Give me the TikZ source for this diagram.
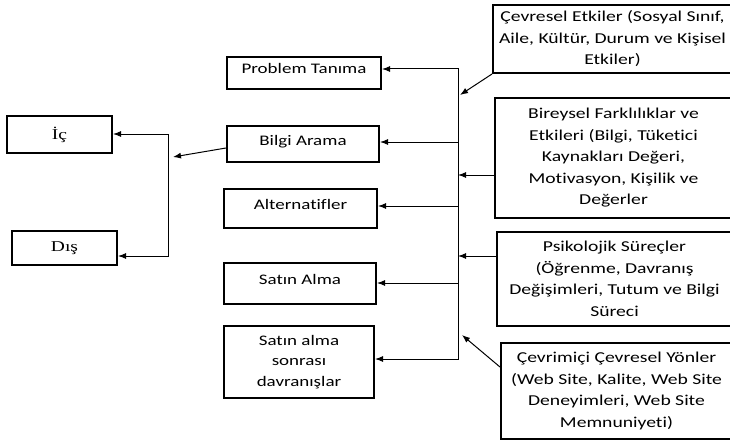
\documentclass[tikz,border=0pt]{standalone}
\usepackage{fontspec}
\setmainfont{Carlito}[FakeStretch=1.3, RawFeature={-liga;-clig;-calt;-dlig}]
\newfontfamily\serifface{Liberation Serif}[FakeStretch=1.3]
\usetikzlibrary{arrows.meta}

\begin{document}
\begin{tikzpicture}[x=1pt, y=-1pt, >={Latex[length=8pt, width=6pt]},
	box/.style		= {rectangle, draw, line width=2pt, inner sep=0pt, align=center},
	stage/.style	= {box, font=\fontsize{14.6}{20.8}\selectfont},
	oneline/.style	= {text height=9.5pt, text depth=7.5pt},
	factor/.style	= {box, font=\fontsize{15.1}{21.5}\selectfont},
	side/.style		= {box, font=\serifface\fontsize{15}{18}\selectfont},
	link/.style		= {line width=1pt}]

\useasboundingbox (0, 0) rectangle (730, 441);

% decision stages
\path	(304, 73)		node(problem)		[stage, oneline, minimum width=154, minimum height=32]	{Problem Tanıma}
		(303, 144)		node(bilgi)			[stage, oneline, minimum width=152, minimum height=36]	{Bilgi Arama}
		(300.5, 208.5)	node(alternatif)	[stage, oneline, minimum width=153, minimum height=39]	{Alternatifler}
		(300, 283.5)	node(satinalma)		[stage, oneline, minimum width=152, minimum height=41]	{Satın Alma}
		(299, 362)		node(sonrasi)		[stage, minimum width=150, minimum height=72]			{Satın alma\\ sonrası\\ davranışlar};

% information sources
\path	(59.5, 134.5)	node(ic)			[side, minimum width=105, minimum height=37]			{İç}
		(64.5, 248)		node(dis)			[side, minimum width=105, minimum height=34]			{Dış};

% influencing factors
\path	(612.5, 39)		node(cevresel)		[factor, minimum width=239, minimum height=68]			{Çevresel Etkiler (Sosyal Sınıf,\\ Aile, Kültür, Durum ve Kişisel\\ Etkiler)}
		(613.5, 158)	node(bireysel)		[factor, minimum width=237, minimum height=120]			{Bireysel Farklılıklar ve\\ Etkileri (Bilgi, Tüketici\\ Kaynakları Değeri,\\ Motivasyon, Kişilik ve\\ Değerler}
		(614.5, 279)	node(psikolojik)	[factor, minimum width=235, minimum height=94]			{Psikolojik Süreçler\\ (Öğrenme, Davranış\\ Değişimleri, Tutum ve Bilgi\\ Süreci}
		(616.5, 391)	node(cevrimici)		[factor, minimum width=231, minimum height=96]			{Çevrimiçi Çevresel Yönler\\ (Web Site, Kalite, Web Site\\ Deneyimleri, Web Site\\ Memnuniyeti)};

\coordinate (icbus)		at (168, 134);
\coordinate (disbus)	at (168, 256);
\coordinate (sourcetip)	at (173, 157);
\coordinate (bus1)		at (458, 69);
\coordinate (bus2)		at (458, 142);
\coordinate (bus3)		at (458, 206);
\coordinate (bus4)		at (458, 283);
\coordinate (bus5)		at (458, 359);
\coordinate (in1)		at (460, 95);
\coordinate (in2)		at (458, 175);
\coordinate (in3)		at (458, 256);
\coordinate (in4)		at (462, 335);

\draw[link, <->]	(ic.east |- icbus)		-- (icbus) -- (disbus) --	(disbus -| dis.east);
\draw[link, ->]		([yshift=-4pt]bilgi.west)	--						(sourcetip);

\draw[link, <->]	(problem.east |- bus1)	-- (bus1) -- (bus5) --	(bus5 -| sonrasi.east);
\draw[link, ->]		(bus2)					--						(bus2 -| bilgi.east);
\draw[link, ->]		(bus3)					--						(bus3 -| alternatif.east);
\draw[link, ->]		(bus4)					--						(bus4 -| satinalma.east);

\draw[link, ->]		(cevresel.south west)	--						(in1);
\draw[link, ->]		(in2 -| bireysel.west)	--						(in2);
\draw[link, ->]		(in3 -| psikolojik.west)	--					(in3);
\draw[link, ->]		([yshift=24pt]cevrimici.west)	--				(in4);
\end{tikzpicture}
\end{document}
